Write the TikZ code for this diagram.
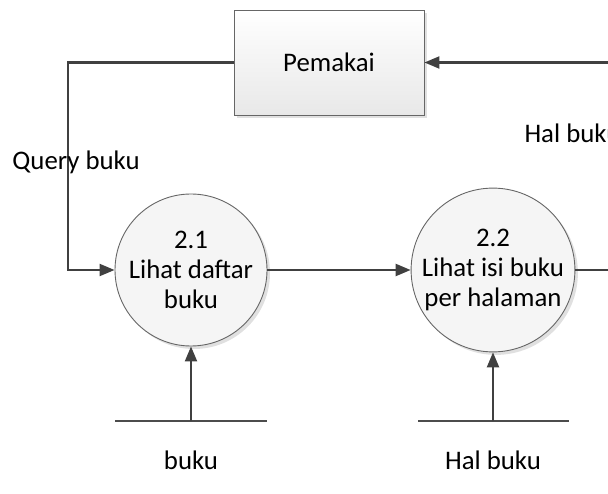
\documentclass[tikz,border=0pt]{standalone}
\usepackage{fontspec}
\setmainfont{Carlito}
\usetikzlibrary{arrows.meta,shadows}

\tikzset{
  flow/.style={draw=black!75, line width=2.2pt, -{Triangle[length=15pt,width=12pt]}},
  entity/.style={draw=black!60, line width=0.9pt, top color=white, bottom color=black!9,
    minimum width=190pt, minimum height=105pt,
    drop shadow={shadow xshift=3pt, shadow yshift=-3pt, fill=black!12, opacity=1}},
  proc/.style={circle, draw=black!60, line width=0.9pt, fill=black!4, minimum size=152pt,
    inner sep=0pt, align=center,
    drop shadow={shadow xshift=3pt, shadow yshift=-3pt, fill=black!12, opacity=1}},
  store/.style={draw=black!70, line width=1.2pt},
  lbl/.style={font=\fontsize{26.8}{30}\selectfont}
}

\begin{document}
\begin{tikzpicture}[x=1pt, y=-1pt, every node/.style={lbl}]
        \clip (0,0) rectangle (608,494);
        % entitas luar
        \node[entity] (pemakai) at (329,62.5) {Pemakai};
        % proses
        \node[proc] (p21) at (191,270) {2.1\\Lihat daftar\\buku};
        \node[proc] (p22) at (493,270) {2.2\\Lihat isi buku\\per halaman};
        % data store
        \coordinate (s1) at (191,421);
        \coordinate (s2) at (493,421);
        \draw[store] (115,421) -- (267,421);
        \draw[store] (418,421) -- (569,421);
        \node (buku) at (191,460) {buku};
        \node (halbuku) at (493,460) {Hal buku};
        % aliran data
        \draw[flow] (pemakai.west) -- (68,62.5) -- (68,270) -- (p21.west);
        \node (query) at (76,162) {Query buku};
        \draw[flow] (p21.east) -- (p22.west);
        \draw[flow] (s1) -- (p21.south);
        \draw[flow] (s2) -- (p22.south);
        \draw[flow] (p22.east) -- (640,270) -- (640,62.5) -- (pemakai.east);
        \node[anchor=west] (hal) at (521,133) {Hal buku};
\end{tikzpicture}
\end{document}
